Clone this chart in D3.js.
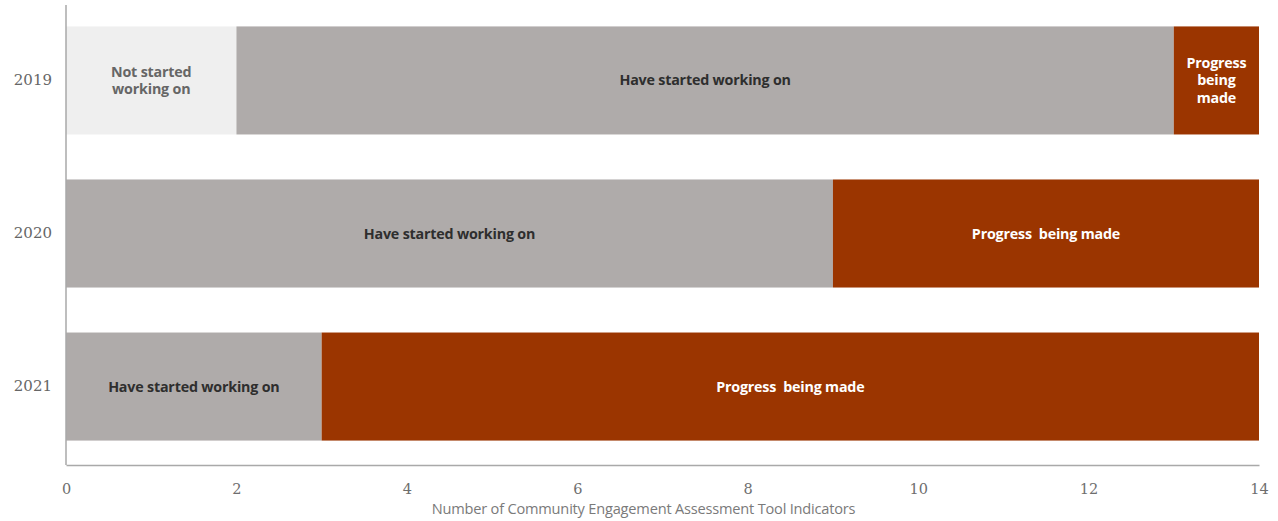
<!DOCTYPE html>
<html>
<head>
<meta charset="utf-8">
<script src="https://cdn.jsdelivr.net/npm/d3@7"></script>
<style>
  html, body { margin: 0; padding: 0; background: #fff; }
  svg { display: block; }
</style>
</head>
<body>
<svg id="chart" width="1278" height="521"></svg>
<script>
// Indicator status by year
const years = ["2019", "2020", "2021"];
const statuses = ["Not started working on", "Have started working on", "Progress being made"];
const notStarted = [2, 0, 0];
const started = [11, 9, 3];
const progress = [1, 5, 11];
const xTicks = [0, 2, 4, 6, 8, 10, 12, 14];
// Line breaks used when a segment is narrow
const segmentLines = [
  [["Not started", "working on"], null, null],
  [["Have started working on"], ["Have started working on"], ["Have started working on"]],
  [["Progress", "being", "made"], ["Progress  being made"], ["Progress  being made"]]
];

const colors = ["#efefef", "#afabaa", "#9b3500"];
const textColors = ["#666666", "#2e2e2e", "#ffffff"];

const svg = d3.select("#chart");
const margin = { left: 66, right: 19, top: 5, bottom: 59 };
const W = 1278, H = 521;

const x = d3.scaleLinear().domain([0, 14]).range([margin.left, W - margin.right]);
const y = d3.scaleBand().domain(years).range([margin.top, H - margin.bottom])
  .paddingInner(0.294).paddingOuter(0.14);

const rows = years.map((yr, i) => ({ year: yr, "0": notStarted[i], "1": started[i], "2": progress[i] }));
const stacked = d3.stack().keys(["0", "1", "2"])(rows);

stacked.forEach((layer, k) => {
  layer.forEach((d, i) => {
    const w = x(d[1]) - x(d[0]);
    if (w <= 0) return;
    svg.append("rect")
      .attr("x", x(d[0]))
      .attr("y", y(years[i]))
      .attr("width", w)
      .attr("height", y.bandwidth())
      .attr("fill", colors[k]);

    const lines = segmentLines[k][i];
    if (!lines) return;
    const cx = (x(d[0]) + x(d[1])) / 2;
    const cy = y(years[i]) + y.bandwidth() / 2;
    const lh = 17.5;
    const t = svg.append("text")
      .attr("x", cx)
      .attr("text-anchor", "middle")
      .attr("font-family", "'Open Sans', 'Liberation Sans', sans-serif")
      .attr("font-weight", 700)
      .attr("font-size", 14.3)
      .attr("letter-spacing", -0.2)
      .attr("fill", textColors[k])
      .style("white-space", "pre");
    lines.forEach((ln, j) => {
      t.append("tspan")
        .attr("x", cx)
        .attr("y", cy + (j - (lines.length - 1) / 2) * lh)
        .attr("dy", "0.35em")
        .text(ln);
    });
  });
});

// Axes
const xAxis = d3.axisBottom(x).tickValues(xTicks).tickSize(0).tickPadding(19);
const gx = svg.append("g")
  .attr("transform", `translate(0,${H - margin.bottom + 3})`)
  .call(xAxis);
gx.select(".domain").attr("stroke", "#a9a9a9").attr("stroke-width", 1.5);
gx.selectAll(".tick text")
  .attr("font-family", "'DejaVu Serif', Georgia, serif")
  .attr("font-size", 14.5)
  .attr("fill", "#6e6e6e");

const yAxis = d3.axisLeft(y).tickSize(0).tickPadding(14);
const gy = svg.append("g")
  .attr("transform", `translate(${margin.left},0)`)
  .call(yAxis);
gy.select(".domain").attr("stroke", "#a9a9a9").attr("stroke-width", 1.5)
  .attr("d", `M0,${margin.top}V${H - margin.bottom + 3}`);
gy.selectAll(".tick text")
  .attr("font-family", "'DejaVu Serif', Georgia, serif")
  .attr("font-size", 15)
  .attr("fill", "#666666");

svg.append("text")
  .attr("x", (x(0) + x(14)) / 2 - 19)
  .attr("y", 514)
  .attr("text-anchor", "middle")
  .attr("font-family", "'Open Sans', 'Liberation Sans', sans-serif")
  .attr("font-size", 14.6)
  .attr("letter-spacing", -0.2)
  .attr("fill", "#7a7a7a")
  .text("Number of Community Engagement Assessment Tool Indicators");
</script>
</body>
</html>
